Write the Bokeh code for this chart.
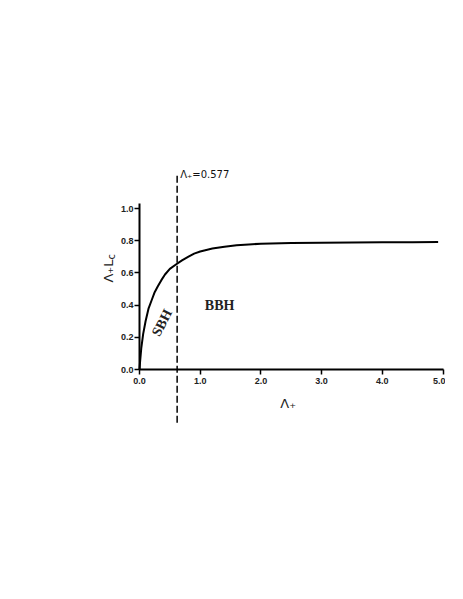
import math
from bokeh.plotting import figure
from bokeh.models import Range1d, FixedTicker, Label, LinearAxis
from bokeh.embed import file_html
from bokeh.resources import INLINE

# Curve
lambda_plus = [0.0, 0.01, 0.03, 0.06, 0.10, 0.15, 0.20, 0.25, 0.30, 0.36, 0.42,
               0.50, 0.60, 0.70, 0.80, 0.90, 1.00, 1.20, 1.40, 1.60, 1.80, 2.00,
               2.50, 3.00, 3.50, 4.00, 4.50, 4.92]
lambda_lc = [0.0, 0.05, 0.135, 0.22, 0.30, 0.38, 0.43, 0.48, 0.515, 0.555, 0.59,
             0.625, 0.652, 0.678, 0.70, 0.72, 0.733, 0.751, 0.763, 0.772, 0.777, 0.781,
             0.785, 0.787, 0.789, 0.790, 0.791, 0.792]

critical_x = [0.62, 0.62]
critical_y = [-0.33, 1.22]
critical_label = "Λ₊=0.577"
x_ticks = [0.0, 1.0, 2.0, 3.0, 4.0, 5.0]
x_tick_labels = ["0.0", "1.0", "2.0", "3.0", "4.0", "5.0"]
y_ticks = [0.0, 0.2, 0.4, 0.6, 0.8, 1.0]
y_tick_labels = ["0.0", "0.2", "0.4", "0.6", "0.8", "1.0"]
region_labels = ["SBH", "BBH"]

W, H = 445, 581
X0, SX = 139.0, 60.7     # pixel of x=0, px per unit
Y0, SY = 369.0, 161.0    # pixel of y=0, px per unit

p = figure(width=W, height=H, output_backend="svg", toolbar_location=None,
           x_range=Range1d(-X0 / SX, (W - X0) / SX),
           y_range=Range1d((Y0 - H) / SY, Y0 / SY),
           x_axis_type=None, y_axis_type=None,
           min_border=0)
p.outline_line_color = None
p.background_fill_color = "white"
p.border_fill_color = "white"

def style_axis(ax):
    ax.axis_line_width = 2
    ax.axis_line_color = "black"
    ax.major_tick_line_width = 1.5
    ax.major_tick_line_color = "black"
    ax.major_tick_out = 5
    ax.major_tick_in = 0
    ax.minor_tick_line_color = None
    ax.major_label_text_font = "Liberation Sans"
    ax.major_label_text_font_style = "bold"
    ax.major_label_text_font_size = "9px"
    ax.major_label_text_color = "#222222"

xa = LinearAxis(ticker=FixedTicker(ticks=x_ticks), fixed_location=0.0, bounds=(0.0, 5.0))
xa.major_label_overrides = {t: l for t, l in zip(x_ticks, x_tick_labels)}
style_axis(xa)
xa.major_label_standoff = 3
p.add_layout(xa, "below")

ya = LinearAxis(ticker=FixedTicker(ticks=y_ticks), fixed_location=0.0, bounds=(0.0, 1.03))
ya.major_label_overrides = {t: l for t, l in zip(y_ticks, y_tick_labels)}
style_axis(ya)
ya.major_label_standoff = 1
p.add_layout(ya, "left")

p.line(lambda_plus, lambda_lc, line_color="black", line_width=2)
p.line(critical_x, critical_y, line_color="black", line_width=1.5, line_dash="7 3")

p.add_layout(Label(x=critical_x[0], y=1.211, x_offset=3, text=critical_label,
                   text_font="DejaVu Sans", text_font_size="10px",
                   text_baseline="middle", text_align="left", text_color="#111111"))

p.add_layout(Label(x=1.32, y=0.40, text=region_labels[1], text_font="Liberation Serif",
                   text_font_style="bold", text_font_size="14px",
                   text_align="center", text_baseline="middle", text_color="#222222"))
p.add_layout(Label(x=0.37, y=0.29, text=region_labels[0], text_font="Liberation Serif",
                   text_font_style="bold", text_font_size="14px", angle=math.radians(63),
                   text_align="center", text_baseline="middle", text_color="#222222"))

# axis titles
p.add_layout(Label(x=2.45, y=-0.21, text="Λ₊", text_font="DejaVu Sans",
                   text_font_size="13px", text_align="center", text_baseline="middle",
                   text_color="#222222"))
p.add_layout(Label(x=0.0, y=0.54, x_offset=-31, text="Λ₊L", text_font="DejaVu Sans",
                   text_font_size="13px", angle=math.pi / 2,
                   text_align="left", text_baseline="alphabetic", text_color="#222222"))
p.add_layout(Label(x=0.0, y=0.54, x_offset=-28, y_offset=23, text="c", text_font="DejaVu Sans",
                   text_font_size="10px", angle=math.pi / 2,
                   text_align="left", text_baseline="alphabetic", text_color="#222222"))

open("out.html", "w").write(file_html(p, INLINE))
